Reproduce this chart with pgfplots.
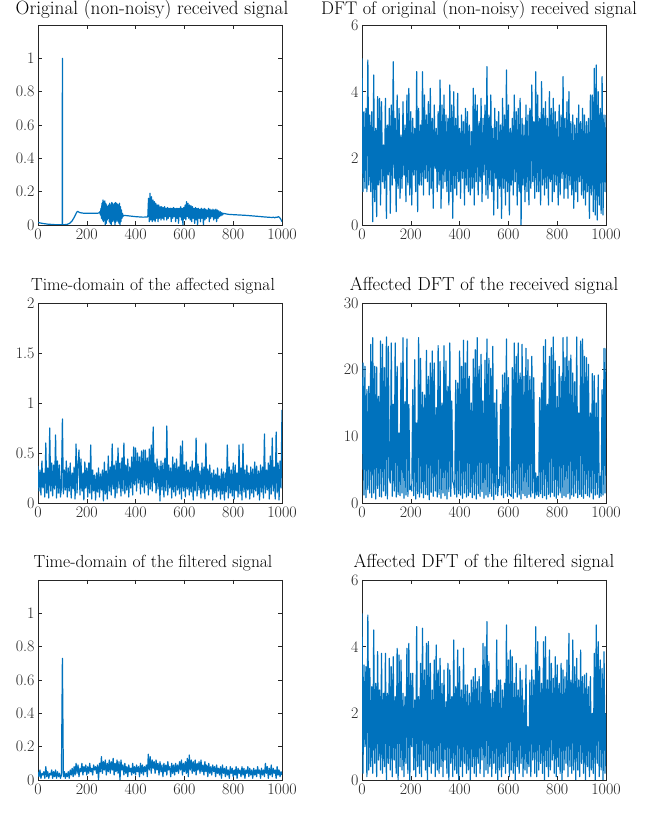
\documentclass[border=0pt]{standalone}
\usepackage{fontspec}
\usepackage{pgfplots}
\usepackage{pgfplotstable}
\pgfplotsset{compat=1.18}
\definecolor{mblue}{rgb}{0,0.447,0.741}
\definecolor{axgray}{rgb}{0.15,0.15,0.15}
\pgfplotsset{mstyle/.style={scale only axis, width=244pt, height=200pt,
  xmin=0, xmax=1000, xtick={0,200,400,600,800,1000},
  tick align=inside, axis line style={axgray, line width=0.6pt},
  tick style={axgray, line width=0.6pt}, major tick length=4pt,
  ticklabel style={font=\fontsize{16}{16}\selectfont, text=axgray},
  title style={font=\fontsize{18}{20}\selectfont, yshift=-1pt},
  /pgf/number format/assume math mode=true,
  /pgf/number format/1000 sep={},
  every axis plot post/.append style={mblue, line width=1.2pt, line join=round, mark=none}}}

\pgfplotstableread[row sep=\\, header=false]{
5.0\\ 1.0\\ 3.4\\ 1.1\\ 3.5\\ 1.0\\ 4.95\\ 1.2\\ 3.3\\ 1.0\\
3.4\\ 0.1\\ 4.5\\ 0.7\\ 2.9\\ 0.25\\ 3.85\\ 1.2\\ 3.8\\ 0.6\\
3.7\\ 1.3\\ 2.4\\ 1.1\\ 3.8\\ 0.2\\ 3.0\\ 1.5\\ 3.5\\ 0.35\\
3.6\\ 1.2\\ 4.9\\ 1.4\\ 3.2\\ 0.4\\ 3.9\\ 1.1\\ 3.5\\ 0.8\\
2.7\\ 1.1\\ 3.7\\ 1.5\\ 3.0\\ 0.7\\ 3.9\\ 1.2\\ 4.1\\ 0.9\\
3.4\\ 0.6\\ 3.2\\ 1.5\\ 2.9\\ 1.0\\ 4.6\\ 0.4\\ 3.5\\ 1.2\\
3.0\\ 1.2\\ 4.6\\ 0.9\\ 3.9\\ 1.4\\ 3.3\\ 1.3\\ 3.7\\ 0.9\\
4.1\\ 1.1\\ 3.2\\ 0.5\\ 3.6\\ 1.7\\ 2.9\\ 1.0\\ 3.4\\ 1.2\\
4.35\\ 0.5\\ 3.6\\ 1.1\\ 3.9\\ 1.3\\ 3.3\\ 1.0\\ 3.2\\ 0.6\\
4.2\\ 1.0\\ 3.6\\ 0.2\\ 4.0\\ 1.1\\ 3.2\\ 0.9\\ 3.95\\ 1.3\\
2.9\\ 0.8\\ 3.3\\ 1.4\\ 3.1\\ 0.6\\ 3.5\\ 1.2\\ 3.4\\ 1.0\\
3.0\\ 0.9\\ 2.8\\ 1.1\\ 4.1\\ 0.6\\ 3.9\\ 1.3\\ 3.6\\ 0.9\\
3.1\\ 1.3\\ 3.8\\ 0.7\\ 3.2\\ 1.5\\ 3.6\\ 0.9\\ 4.75\\ 0.8\\
3.3\\ 1.2\\ 3.9\\ 1.0\\ 2.9\\ 0.3\\ 3.5\\ 1.4\\ 3.1\\ 0.5\\
3.4\\ 1.1\\ 3.0\\ 0.2\\ 3.8\\ 1.1\\ 3.3\\ 0.6\\ 4.65\\ 1.0\\
3.6\\ 0.3\\ 2.9\\ 1.2\\ 3.2\\ 0.9\\ 3.9\\ 1.3\\ 3.4\\ 0.6\\
3.5\\ 1.0\\ 3.8\\ 0.0\\ 3.2\\ 1.2\\ 3.0\\ 0.7\\ 3.6\\ 1.0\\
3.3\\ 0.6\\ 3.5\\ 1.1\\ 4.2\\ 1.3\\ 3.1\\ 0.8\\ 4.6\\ 1.0\\
3.9\\ 1.0\\ 3.2\\ 0.6\\ 4.3\\ 1.2\\ 3.5\\ 0.9\\ 3.7\\ 1.1\\
3.2\\ 0.6\\ 4.0\\ 1.3\\ 3.5\\ 0.7\\ 3.8\\ 1.0\\ 3.4\\ 1.2\\
3.1\\ 0.6\\ 3.6\\ 0.9\\ 3.3\\ 1.4\\ 4.45\\ 0.8\\ 3.2\\ 1.1\\
3.7\\ 0.8\\ 4.0\\ 1.2\\ 3.1\\ 0.9\\ 3.3\\ 0.5\\ 3.0\\ 1.0\\
3.2\\ 0.7\\ 3.6\\ 1.3\\ 3.1\\ 0.9\\ 3.5\\ 0.8\\ 3.3\\ 0.6\\
3.1\\ 1.0\\ 3.2\\ 0.2\\ 3.9\\ 0.9\\ 3.9\\ 0.4\\ 4.7\\ 0.3\\
4.8\\ 0.15\\ 4.0\\ 0.6\\ 3.5\\ 0.35\\ 4.45\\ 0.3\\ 3.3\\ 1.0\\
3.3\\
}\dftorig

\pgfplotstableread[row sep=\\, header=false]{
0.37\\ 0.12\\ 0.33\\ 0.08\\ 0.42\\ 0.15\\ 0.30\\ 0.06\\ 0.60\\ 0.10\\
0.35\\ 0.05\\ 0.75\\ 0.12\\ 0.40\\ 0.07\\ 0.38\\ 0.14\\ 0.68\\ 0.05\\
0.42\\ 0.10\\ 0.38\\ 0.06\\ 0.15\\ 0.84\\ 0.09\\ 0.33\\ 0.13\\ 0.42\\
0.06\\ 0.35\\ 0.12\\ 0.40\\ 0.05\\ 0.30\\ 0.14\\ 0.36\\ 0.04\\ 0.59\\
0.10\\ 0.38\\ 0.53\\ 0.08\\ 0.44\\ 0.12\\ 0.30\\ 0.03\\ 0.41\\ 0.15\\
0.35\\ 0.06\\ 0.40\\ 0.10\\ 0.58\\ 0.04\\ 0.33\\ 0.12\\ 0.28\\ 0.03\\
0.30\\ 0.11\\ 0.35\\ 0.06\\ 0.29\\ 0.13\\ 0.33\\ 0.02\\ 0.41\\ 0.09\\
0.32\\ 0.04\\ 0.47\\ 0.12\\ 0.36\\ 0.08\\ 0.59\\ 0.14\\ 0.38\\ 0.05\\
0.42\\ 0.10\\ 0.55\\ 0.15\\ 0.40\\ 0.07\\ 0.45\\ 0.12\\ 0.60\\ 0.09\\
0.38\\ 0.13\\ 0.44\\ 0.06\\ 0.36\\ 0.15\\ 0.46\\ 0.08\\ 0.56\\ 0.18\\
0.55\\ 0.12\\ 0.50\\ 0.20\\ 0.46\\ 0.09\\ 0.52\\ 0.16\\ 0.53\\ 0.10\\
0.53\\ 0.18\\ 0.45\\ 0.08\\ 0.54\\ 0.14\\ 0.58\\ 0.12\\ 0.76\\ 0.20\\
0.40\\ 0.10\\ 0.44\\ 0.14\\ 0.37\\ 0.02\\ 0.42\\ 0.13\\ 0.40\\ 0.06\\
0.45\\ 0.12\\ 0.77\\ 0.08\\ 0.38\\ 0.15\\ 0.35\\ 0.05\\ 0.46\\ 0.11\\
0.40\\ 0.07\\ 0.44\\ 0.13\\ 0.36\\ 0.09\\ 0.57\\ 0.04\\ 0.62\\ 0.12\\
0.38\\ 0.06\\ 0.41\\ 0.14\\ 0.33\\ 0.08\\ 0.36\\ 0.11\\ 0.42\\ 0.03\\
0.35\\ 0.12\\ 0.65\\ 0.07\\ 0.39\\ 0.13\\ 0.32\\ 0.05\\ 0.40\\ 0.10\\
0.36\\ 0.04\\ 0.60\\ 0.12\\ 0.34\\ 0.08\\ 0.38\\ 0.14\\ 0.30\\ 0.03\\
0.33\\ 0.10\\ 0.29\\ 0.06\\ 0.35\\ 0.12\\ 0.27\\ 0.04\\ 0.34\\ 0.09\\
0.31\\ 0.03\\ 0.30\\ 0.11\\ 0.58\\ 0.05\\ 0.36\\ 0.10\\ 0.33\\ 0.07\\
0.40\\ 0.04\\ 0.38\\ 0.12\\ 0.30\\ 0.06\\ 0.58\\ 0.09\\ 0.35\\ 0.03\\
0.59\\ 0.11\\ 0.33\\ 0.05\\ 0.38\\ 0.13\\ 0.30\\ 0.04\\ 0.36\\ 0.10\\
0.34\\ 0.06\\ 0.41\\ 0.12\\ 0.37\\ 0.08\\ 0.32\\ 0.03\\ 0.38\\ 0.11\\
0.36\\ 0.05\\ 0.69\\ 0.10\\ 0.33\\ 0.13\\ 0.40\\ 0.04\\ 0.47\\ 0.09\\
0.65\\ 0.12\\ 0.36\\ 0.04\\ 0.71\\ 0.10\\ 0.40\\ 0.03\\ 0.42\\ 0.15\\
0.93\\
}\timeaff

\pgfplotstableread[row sep=\\, header=false]{
5.0\\ 21.0\\ 1.2\\ 20.5\\ 0.8\\ 17.0\\ 2.0\\ 17.5\\ 1.5\\ 23.8\\
0.8\\ 24.8\\ 1.5\\ 20.5\\ 0.6\\ 20.4\\ 2.2\\ 16.0\\ 1.0\\ 24.3\\
0.9\\ 23.8\\ 1.8\\ 20.3\\ 1.1\\ 24.9\\ 0.6\\ 23.5\\ 3.8\\ 3.0\\
24.0\\ 1.0\\ 14.8\\ 1.8\\ 24.0\\ 0.9\\ 20.5\\ 1.3\\ 10.5\\ 1.1\\
21.0\\ 1.5\\ 24.8\\ 0.7\\ 15.2\\ 1.2\\ 24.6\\ 1.0\\ 14.8\\ 2.0\\
2.5\\ 1.8\\ 17.0\\ 1.1\\ 21.5\\ 0.6\\ 12.0\\ 1.4\\ 24.8\\ 0.9\\
21.7\\ 1.5\\ 16.6\\ 0.8\\ 16.2\\ 1.3\\ 22.9\\ 1.2\\ 19.0\\ 0.5\\
21.0\\ 1.6\\ 22.8\\ 1.0\\ 21.0\\ 1.8\\ 14.3\\ 0.9\\ 23.6\\ 1.3\\
21.2\\ 0.7\\ 15.0\\ 1.5\\ 23.6\\ 1.1\\ 21.3\\ 0.6\\ 17.5\\ 1.7\\
24.0\\ 1.0\\ 15.3\\ 3.2\\ 2.8\\ 1.3\\ 18.4\\ 0.9\\ 18.0\\ 1.4\\
22.8\\ 1.2\\ 20.5\\ 0.7\\ 24.4\\ 1.5\\ 21.0\\ 0.9\\ 24.3\\ 1.1\\
19.0\\ 1.6\\ 15.0\\ 0.8\\ 21.6\\ 1.2\\ 23.0\\ 0.6\\ 24.8\\ 1.4\\
20.5\\ 1.0\\ 22.3\\ 1.7\\ 15.3\\ 0.7\\ 21.4\\ 1.2\\ 24.6\\ 0.9\\
21.7\\ 1.4\\ 20.2\\ 1.0\\ 23.5\\ 0.5\\ 15.0\\ 1.3\\ 17.0\\ 1.1\\
3.5\\ 2.6\\ 14.8\\ 1.2\\ 19.2\\ 0.8\\ 19.5\\ 1.5\\ 24.6\\ 1.0\\
18.8\\ 1.3\\ 1.2\\ 1.0\\ 20.3\\ 0.7\\ 24.0\\ 1.6\\ 22.0\\ 0.9\\
24.0\\ 1.2\\ 19.5\\ 0.6\\ 23.8\\ 1.4\\ 19.0\\ 1.1\\ 23.2\\ 0.8\\
21.5\\ 1.3\\ 19.0\\ 0.9\\ 22.0\\ 1.5\\ 18.8\\ 0.7\\ 4.5\\ 1.2\\
4.0\\ 1.0\\ 15.8\\ 1.4\\ 18.0\\ 0.8\\ 23.5\\ 1.1\\ 24.5\\ 0.6\\
14.8\\ 1.3\\ 22.0\\ 0.9\\ 23.3\\ 1.6\\ 24.9\\ 1.0\\ 21.3\\ 0.7\\
16.0\\ 1.2\\ 20.5\\ 1.5\\ 19.0\\ 0.8\\ 24.8\\ 1.1\\ 21.8\\ 0.9\\
24.9\\ 1.4\\ 21.3\\ 0.6\\ 22.2\\ 1.2\\ 19.5\\ 1.0\\ 18.2\\ 1.5\\
24.9\\ 0.8\\ 13.5\\ 1.3\\ 24.3\\ 1.0\\ 24.6\\ 0.7\\ 22.0\\ 1.4\\
21.8\\ 1.1\\ 20.8\\ 0.9\\ 13.5\\ 1.5\\ 19.4\\ 0.6\\ 19.1\\ 1.2\\
15.0\\ 1.3\\ 19.2\\ 0.8\\ 4.0\\ 1.0\\ 17.0\\ 1.2\\ 23.2\\ 1.5\\
23.2\\
}\dftaff

\pgfplotstableread[row sep=\\, header=false]{
0.05\\ 0.02\\ 0.06\\ 0.01\\ 0.04\\ 0.03\\ 0.05\\ 0.01\\ 0.08\\ 0.02\\
0.05\\ 0.01\\ 0.04\\ 0.03\\ 0.06\\ 0.01\\ 0.05\\ 0.02\\ 0.06\\ 0.01\\
0.05\\ 0.02\\ 0.04\\ 0.01\\ 0.03\\ 0.73\\ 0.02\\ 0.05\\ 0.01\\ 0.04\\
0.02\\ 0.05\\ 0.01\\ 0.06\\ 0.03\\ 0.07\\ 0.02\\ 0.08\\ 0.03\\ 0.10\\
0.04\\ 0.09\\ 0.02\\ 0.07\\ 0.05\\ 0.10\\ 0.03\\ 0.08\\ 0.05\\ 0.09\\
0.03\\ 0.08\\ 0.04\\ 0.10\\ 0.05\\ 0.07\\ 0.03\\ 0.09\\ 0.06\\ 0.08\\
0.04\\ 0.09\\ 0.00\\ 0.10\\ 0.05\\ 0.14\\ 0.04\\ 0.11\\ 0.06\\ 0.12\\
0.03\\ 0.10\\ 0.05\\ 0.12\\ 0.04\\ 0.11\\ 0.06\\ 0.13\\ 0.03\\ 0.10\\
0.05\\ 0.12\\ 0.04\\ 0.11\\ 0.00\\ 0.12\\ 0.06\\ 0.09\\ 0.03\\ 0.10\\
0.04\\ 0.08\\ 0.02\\ 0.09\\ 0.05\\ 0.07\\ 0.03\\ 0.10\\ 0.04\\ 0.08\\
0.03\\ 0.09\\ 0.05\\ 0.08\\ 0.02\\ 0.10\\ 0.04\\ 0.09\\ 0.03\\ 0.08\\
0.05\\ 0.09\\ 0.02\\ 0.155\\ 0.06\\ 0.14\\ 0.04\\ 0.12\\ 0.07\\ 0.11\\
0.04\\ 0.12\\ 0.06\\ 0.10\\ 0.03\\ 0.11\\ 0.05\\ 0.09\\ 0.02\\ 0.10\\
0.05\\ 0.09\\ 0.03\\ 0.11\\ 0.06\\ 0.08\\ 0.02\\ 0.10\\ 0.04\\ 0.09\\
0.03\\ 0.10\\ 0.05\\ 0.09\\ 0.04\\ 0.11\\ 0.06\\ 0.12\\ 0.03\\ 0.10\\
0.05\\ 0.11\\ 0.04\\ 0.13\\ 0.02\\ 0.15\\ 0.06\\ 0.12\\ 0.04\\ 0.11\\
0.05\\ 0.12\\ 0.03\\ 0.10\\ 0.06\\ 0.11\\ 0.04\\ 0.12\\ 0.05\\ 0.09\\
0.03\\ 0.11\\ 0.05\\ 0.09\\ 0.02\\ 0.10\\ 0.04\\ 0.08\\ 0.03\\ 0.09\\
0.05\\ 0.08\\ 0.02\\ 0.09\\ 0.04\\ 0.07\\ 0.03\\ 0.08\\ 0.01\\ 0.09\\
0.04\\ 0.07\\ 0.02\\ 0.08\\ 0.03\\ 0.06\\ 0.01\\ 0.08\\ 0.04\\ 0.07\\
0.02\\ 0.06\\ 0.03\\ 0.08\\ 0.01\\ 0.07\\ 0.04\\ 0.06\\ 0.02\\ 0.08\\
0.03\\ 0.07\\ 0.01\\ 0.06\\ 0.04\\ 0.08\\ 0.02\\ 0.07\\ 0.03\\ 0.06\\
0.01\\ 0.07\\ 0.03\\ 0.06\\ 0.02\\ 0.08\\ 0.04\\ 0.06\\ 0.01\\ 0.07\\
0.03\\ 0.06\\ 0.02\\ 0.10\\ 0.04\\ 0.08\\ 0.01\\ 0.07\\ 0.03\\ 0.09\\
0.02\\ 0.07\\ 0.04\\ 0.06\\ 0.01\\ 0.08\\ 0.03\\ 0.06\\ 0.02\\ 0.05\\
0.03\\
}\timefilt

\pgfplotstableread[row sep=\\, header=false]{
5.0\\ 0.2\\ 3.45\\ 1.0\\ 3.4\\ 0.1\\ 4.95\\ 0.3\\ 3.35\\ 0.4\\
2.8\\ 0.2\\ 4.5\\ 0.5\\ 2.9\\ 0.1\\ 3.85\\ 0.6\\ 2.7\\ 0.3\\
3.8\\ 0.2\\ 2.6\\ 0.4\\ 3.8\\ 0.0\\ 2.6\\ 0.5\\ 3.65\\ 0.3\\
3.4\\ 0.1\\ 3.7\\ 0.6\\ 2.5\\ 0.2\\ 3.95\\ 0.0\\ 3.75\\ 0.4\\
3.6\\ 0.3\\ 2.6\\ 0.1\\ 2.5\\ 0.5\\ 3.95\\ 0.2\\ 4.1\\ 0.0\\
3.2\\ 1.0\\ 3.2\\ 0.3\\ 2.4\\ 0.1\\ 4.6\\ 0.4\\ 2.5\\ 0.2\\
3.5\\ 0.1\\ 4.55\\ 0.6\\ 3.3\\ 0.3\\ 4.1\\ 0.0\\ 4.15\\ 0.4\\
3.5\\ 0.2\\ 2.7\\ 0.5\\ 3.6\\ 0.1\\ 4.05\\ 0.3\\ 3.3\\ 0.2\\
3.65\\ 0.4\\ 2.9\\ 0.1\\ 3.3\\ 0.6\\ 2.35\\ 0.2\\ 3.5\\ 0.0\\
3.3\\ 0.5\\ 2.5\\ 0.1\\ 4.2\\ 0.3\\ 2.8\\ 0.2\\ 3.9\\ 0.0\\
3.4\\ 0.4\\ 2.7\\ 0.1\\ 3.95\\ 0.5\\ 2.85\\ 0.2\\ 2.85\\ 0.3\\
2.6\\ 0.0\\ 3.0\\ 0.4\\ 3.1\\ 0.2\\ 3.35\\ 0.1\\ 2.95\\ 0.5\\
3.1\\ 0.2\\ 2.8\\ 0.6\\ 4.1\\ 0.1\\ 4.0\\ 0.3\\ 4.75\\ 0.2\\
3.55\\ 0.4\\ 2.6\\ 0.1\\ 2.7\\ 0.5\\ 2.65\\ 0.2\\ 4.2\\ 0.0\\
3.0\\ 0.3\\ 3.0\\ 0.1\\ 2.7\\ 0.4\\ 2.9\\ 0.2\\ 4.65\\ 0.5\\
3.6\\ 0.1\\ 3.9\\ 0.3\\ 3.7\\ 0.2\\ 2.9\\ 0.0\\ 3.5\\ 0.4\\
2.7\\ 0.2\\ 3.35\\ 0.5\\ 3.0\\ 0.1\\ 2.4\\ 0.3\\ 3.45\\ 0.2\\
1.6\\ 0.4\\ 3.0\\ 0.1\\ 3.3\\ 0.6\\ 3.0\\ 0.2\\ 4.6\\ 0.1\\
4.15\\ 0.3\\ 3.4\\ 0.5\\ 2.9\\ 0.2\\ 4.15\\ 0.0\\ 4.3\\ 0.4\\
3.0\\ 0.1\\ 3.9\\ 0.3\\ 3.5\\ 0.6\\ 3.05\\ 0.2\\ 3.7\\ 0.1\\
3.45\\ 0.4\\ 2.9\\ 0.2\\ 3.5\\ 0.0\\ 3.3\\ 0.3\\ 3.1\\ 0.5\\
3.6\\ 0.1\\ 4.4\\ 0.4\\ 3.0\\ 0.2\\ 4.2\\ 0.3\\ 3.4\\ 0.0\\
3.65\\ 0.3\\ 3.0\\ 0.1\\ 3.9\\ 0.5\\ 3.1\\ 0.2\\ 3.15\\ 0.0\\
3.2\\ 0.4\\ 2.8\\ 0.1\\ 3.1\\ 0.3\\ 2.0\\ 0.2\\ 3.8\\ 0.0\\
4.65\\ 0.5\\ 4.15\\ 0.1\\ 3.6\\ 0.3\\ 3.35\\ 0.0\\ 3.85\\ 0.2\\
2.0\\
}\dftfilt

\begin{document}
\begin{tikzpicture}
\path[use as bounding box] (0,0) rectangle (653pt,813pt);

% Row 1 left
\begin{axis}[mstyle, at={(38pt,588pt)}, anchor=south west,
  ymin=0, ymax=1.2, ytick={0,0.2,0.4,0.6,0.8,1},
  title style={font=\fontsize{19.2}{20}\selectfont, yshift=-3pt, xshift=-8pt},
  title={Original (non-noisy) received signal}]
\addplot coordinates {
(1,0.015)(10,0.012)(20,0.009)(30,0.007)(40,0.005)(50,0.004)(60,0.003)(70,0.002)(80,0.002)(90,0.002)(99,0.002)
(100,1.0)(101,0.002)(110,0.002)(120,0.004)(130,0.01)(140,0.025)(150,0.05)(158,0.075)(163,0.082)(170,0.075)
(180,0.072)(190,0.07)(200,0.07)(220,0.07)(240,0.07)(250,0.072)
(254,0.08)(256,0.06)(258,0.1)(260,0.04)(262,0.13)(264,0.03)(266,0.15)(268,0.02)(270,0.14)(272,0.03)
(274,0.145)(276,0.0)(278,0.13)(280,0.01)(282,0.12)(284,0.03)(286,0.11)(288,0.04)(290,0.12)(292,0.02)
(294,0.13)(296,0.01)(298,0.12)(300,0.0)(302,0.135)(304,0.02)(306,0.13)(308,0.03)(310,0.12)(312,0.02)
(314,0.13)(316,0.0)(318,0.135)(320,0.02)(322,0.13)(324,0.03)(326,0.125)(328,0.02)(330,0.12)(332,0.01)
(334,0.13)(336,0.0)(338,0.11)(340,0.02)(342,0.09)(344,0.04)(346,0.07)(348,0.05)(350,0.058)
(370,0.055)(400,0.05)(430,0.047)(448,0.048)
(450,0.05)(453,0.16)(456,0.02)(459,0.19)(462,0.03)(465,0.17)(468,0.02)(471,0.15)(474,0.03)(477,0.14)
(480,0.02)(483,0.13)(486,0.04)(489,0.12)(492,0.02)(495,0.12)(498,0.04)(501,0.11)(504,0.03)(507,0.11)
(510,0.04)(513,0.105)(516,0.03)(519,0.11)(522,0.05)(525,0.1)(528,0.03)(531,0.105)(534,0.04)(537,0.1)
(540,0.05)(543,0.1)(546,0.02)(549,0.1)(552,0.04)(555,0.105)(558,0.05)(561,0.1)(564,0.02)(567,0.1)
(570,0.04)(573,0.1)(576,0.01)(579,0.1)(582,0.05)(585,0.11)(588,0.03)(591,0.1)(594,0.0)(597,0.105)
(600,0.04)(603,0.12)(606,0.03)(609,0.14)(612,0.05)(615,0.13)(618,0.04)(621,0.12)(624,0.03)(627,0.115)
(630,0.02)(633,0.11)(636,0.04)(639,0.1)(642,0.01)(645,0.105)(648,0.03)(651,0.1)(654,0.0)(657,0.1)
(660,0.04)(663,0.095)(666,0.02)(669,0.1)(672,0.04)(675,0.095)(678,0.0)(681,0.1)(684,0.03)(687,0.095)
(690,0.04)(693,0.09)(696,0.05)(699,0.1)(702,0.02)(705,0.095)(708,0.04)(711,0.09)(714,0.05)(717,0.095)
(720,0.03)(723,0.09)(726,0.04)(729,0.095)(732,0.02)(735,0.09)(738,0.04)(741,0.085)(744,0.05)(747,0.08)
(750,0.055)(753,0.075)(756,0.06)(760,0.07)
(765,0.068)(780,0.064)(800,0.062)(850,0.058)(900,0.052)(930,0.048)(950,0.046)(960,0.045)(965,0.047)
(970,0.043)(975,0.047)(980,0.046)(985,0.05)(990,0.045)(995,0.035)(1000,0.02)
};
\end{axis}

% Row 1 right
\begin{axis}[mstyle, at={(362pt,588pt)}, anchor=south west,
  ymin=0, ymax=6, ytick={0,2,4,6},
  title style={font=\fontsize{18.3}{20}\selectfont, yshift=-3pt, xshift=-5pt},
  title={DFT of original (non-noisy) received signal}]
\addplot table[x expr=\coordindex*4, y index=0] {\dftorig};
\end{axis}

% Row 2 left
\begin{axis}[mstyle, at={(38pt,310pt)}, anchor=south west,
  ymin=0, ymax=2, ytick={0,0.5,1,1.5,2},
  title style={font=\fontsize{17.5}{20}\selectfont, xshift=-7pt},
  title={Time-domain of the affected signal}]
\addplot table[x expr=\coordindex*4, y index=0] {\timeaff};
\end{axis}

% Row 2 right
\begin{axis}[mstyle, at={(362pt,310pt)}, anchor=south west,
  ymin=0, ymax=30, ytick={0,10,20,30},
  title style={font=\fontsize{18.8}{20}\selectfont},
  title={Affected DFT of the received signal}]
\addplot table[x expr=\coordindex*4, y index=0] {\dftaff};
\end{axis}

% Row 3 left
\begin{axis}[mstyle, at={(38pt,33pt)}, anchor=south west,
  ymin=0, ymax=1.2, ytick={0,0.2,0.4,0.6,0.8,1},
  title style={font=\fontsize{17.5}{20}\selectfont, xshift=-7pt},
  title={Time-domain of the filtered signal}]
\addplot table[x expr=\coordindex*4, y index=0] {\timefilt};
\end{axis}

% Row 3 right
\begin{axis}[mstyle, at={(362pt,33pt)}, anchor=south west,
  ymin=0, ymax=6, ytick={0,2,4,6},
  title style={font=\fontsize{18.8}{20}\selectfont},
  title={Affected DFT of the filtered signal}]
\addplot table[x expr=\coordindex*4, y index=0] {\dftfilt};
\end{axis}
\end{tikzpicture}
\end{document}
